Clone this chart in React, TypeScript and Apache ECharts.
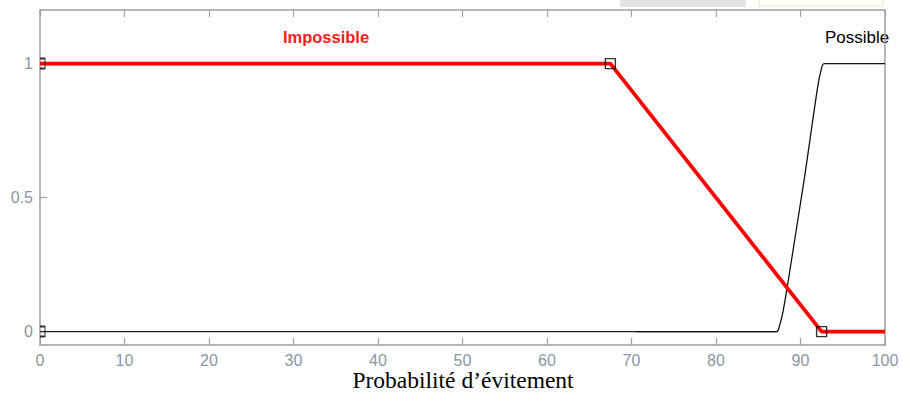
import React, { useEffect, useRef } from "react";
import * as echarts from "echarts";

const xTicks = [0, 10, 20, 30, 40, 50, 60, 70, 80, 90, 100];
const yTicks = [0, 0.5, 1];
const impossibleX = [0, 67.5, 92.5, 100];
const impossibleY = [1, 1, 0, 0];
const possibleX = [70.5, 87.2, 87.5, 87.9, 88.4, 89.5, 90.5, 91.5, 92.1, 92.4, 92.8, 100];
const possibleY = [0, 0, 0.02, 0.07, 0.16, 0.38, 0.58, 0.8, 0.925, 0.97, 1, 1];
const baselineX = [0, 87.2];
const baselineY = [0, 0];
const markerX = [0, 0, 67.5, 92.5];
const markerY = [0, 1, 1, 0];

const labelColor = "#8a96a3";
const axisColor = "#a0a0a0";

export default function App() {
  const ref = useRef<HTMLDivElement>(null);
  useEffect(() => {
    const chart = echarts.init(ref.current!, null, { renderer: "svg" });
    const zip = (xs: number[], ys: number[]) => xs.map((x, i) => [x, ys[i]]);
    const markers = markerX.map((x, i) =>
      x === xTicks[0]
        ? {
            value: [x, markerY[i]],
            symbol: "path://M0,0L5,0L5,10L0,10",
            symbolSize: [5, 10],
            symbolOffset: [2.5, 0],
          }
        : { value: [x, markerY[i]] }
    );
    chart.setOption({
      animation: false,
      backgroundColor: "#ffffff",
      grid: { left: 40, right: 18, top: 10, bottom: 54, containLabel: false },
      xAxis: [
        {
          type: "value",
          min: xTicks[0],
          max: xTicks[xTicks.length - 1],
          interval: 10,
          position: "bottom",
          axisLine: { show: true, onZero: false, lineStyle: { color: axisColor, width: 1.5 } },
          axisTick: { show: true, inside: true, length: 7, lineStyle: { color: axisColor, width: 1.2 } },
          axisLabel: { color: labelColor, fontSize: 16, fontFamily: "Liberation Sans, Arial", margin: 7 },
          splitLine: { show: false },
        },
        {
          type: "value",
          min: xTicks[0],
          max: xTicks[xTicks.length - 1],
          interval: 10,
          position: "top",
          axisLine: { show: true, onZero: false, lineStyle: { color: axisColor, width: 1.5 } },
          axisTick: { show: true, inside: true, length: 7, lineStyle: { color: axisColor, width: 1.2 } },
          axisLabel: { show: false },
          splitLine: { show: false },
        },
      ],
      yAxis: [
        {
          type: "value",
          min: -0.05,
          max: 1.2,
          position: "left",
          axisLine: { show: true, onZero: false, lineStyle: { color: axisColor, width: 1.5 } },
          axisTick: { show: true, inside: true, length: 7, customValues: yTicks, lineStyle: { color: axisColor, width: 1.2 } },
          axisLabel: { color: labelColor, fontSize: 16, fontFamily: "Liberation Sans, Arial", margin: 7, customValues: yTicks },
          splitLine: { show: false },
        },
        {
          type: "value",
          min: -0.05,
          max: 1.2,
          position: "right",
          axisLine: { show: true, onZero: false, lineStyle: { color: axisColor, width: 1.5 } },
          axisTick: { show: false },
          axisLabel: { show: false },
          splitLine: { show: false },
        },
      ],
      series: [
        {
          type: "line",
          data: zip(baselineX, baselineY),
          showSymbol: false,
          lineStyle: { color: "#222", width: 1.3 },
          z: 2,
        },
        {
          type: "line",
          data: zip(possibleX, possibleY),
          showSymbol: false,
          smooth: 0.3,
          lineStyle: { color: "#111", width: 1.3 },
          z: 2,
        },
        {
          type: "line",
          data: zip(impossibleX, impossibleY),
          showSymbol: false,
          lineStyle: { color: "#ff0000", width: 3.8 },
          z: 3,
        },
        {
          type: "scatter",
          data: markers,
          symbol: "rect",
          symbolSize: 10,
          itemStyle: { color: "rgba(0,0,0,0)", borderColor: "#000", borderWidth: 1.4 },
          z: 4,
        },
      ],
      graphic: [
        { type: "rect", shape: { x: 620, y: 0, width: 126, height: 7 }, style: { fill: "#e3e3e3" } },
        { type: "rect", shape: { x: 759, y: -4, width: 124, height: 10 }, style: { fill: "#fffef8", stroke: "#e8e4d0", lineWidth: 1 } },
        {
          type: "text",
          x: 326,
          y: 37,
          style: { text: "Impossible", fill: "#ff1a1a", font: "bold 16.5px 'Liberation Sans', Arial", align: "center", verticalAlign: "middle" },
        },
        {
          type: "text",
          x: 857,
          y: 37,
          style: { text: "Possible", fill: "#000", font: "17px 'Liberation Sans', Arial", align: "center", verticalAlign: "middle" },
        },
        {
          type: "text",
          x: 463,
          y: 380,
          style: { text: "Probabilité d’évitement", fill: "#000", font: "23.5px 'Liberation Serif', 'Times New Roman', serif", align: "center", verticalAlign: "middle" },
        },
      ],
    });
    return () => chart.dispose();
  }, []);
  return <div ref={ref} style={{ position: "fixed", left: 0, top: 0, width: 903, height: 399 }} />;
}
